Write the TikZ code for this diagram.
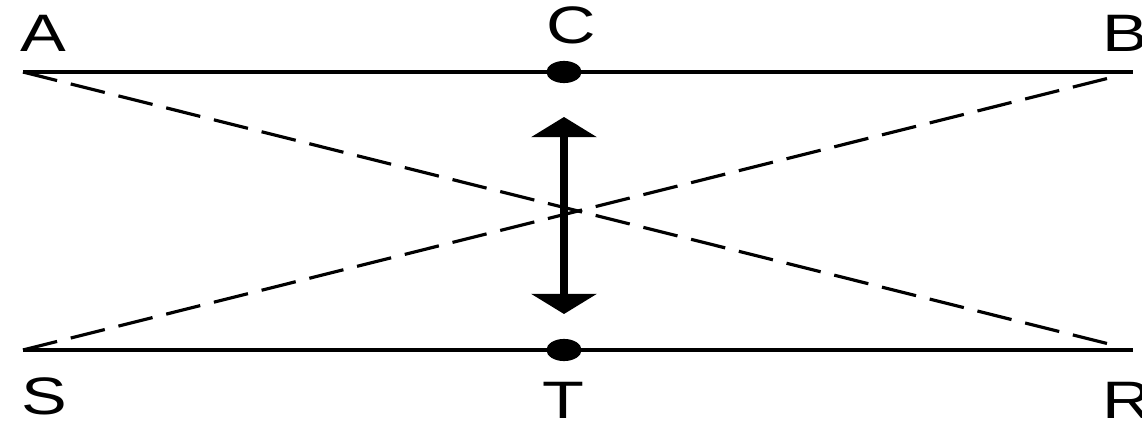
\documentclass[tikz,border=0pt]{standalone}
\usepackage{fontspec}
\newfontfamily\lblfont[FakeStretch=1.3]{Liberation Sans}
\usetikzlibrary{arrows.meta}
\tikzset{
  rail/.style={line width=2pt},
  sightline/.style={line width=1.8pt, dash pattern=on 20pt off 8pt},
  pointlabel/.style={font=\lblfont\fontsize{30}{36}\selectfont, inner sep=0pt}
}
\begin{document}
\begin{tikzpicture}[x=0.02cm,y=-0.02cm]
  \useasboundingbox (0,0) rectangle (1142,425);
  % end points of the two rails
  \coordinate (A) at (23,72);
  \coordinate (B) at (1133,72);
  \coordinate (S) at (23,350);
  \coordinate (R) at (1133,350);
  \coordinate (C) at (564,72);
  \coordinate (T) at (564,350);
  % arrow ends
  \coordinate (up) at (564,117);
  \coordinate (down) at (564,314);
  % rails
  \draw[rail] (A) -- (B);
  \draw[rail] (S) -- (R);
  % crossing dashed lines
  \draw[sightline, shorten >=13pt] (A) -- (R);
  \draw[sightline, shorten >=13pt] (S) -- (B);
  % marked points
  \fill (C) ellipse [x radius=10pt, y radius=6.3pt];
  \fill (T) ellipse [x radius=10pt, y radius=6.3pt];
  % double arrow
  \draw[line width=4pt, {Triangle[width=37pt,length=11.5pt]}-{Triangle[width=37pt,length=11.5pt]}] (up) -- (down);
  % labels
  \node[pointlabel] (lA) at (43,33) {A};
  \node[pointlabel] (lC) at (571,25) {C};
  \node[pointlabel] (lB) at (1125,33) {B};
  \node[pointlabel] (lS) at (44,396) {S};
  \node[pointlabel] (lT) at (563,400) {T};
  \node[pointlabel] (lR) at (1127,400) {R};
\end{tikzpicture}
\end{document}
